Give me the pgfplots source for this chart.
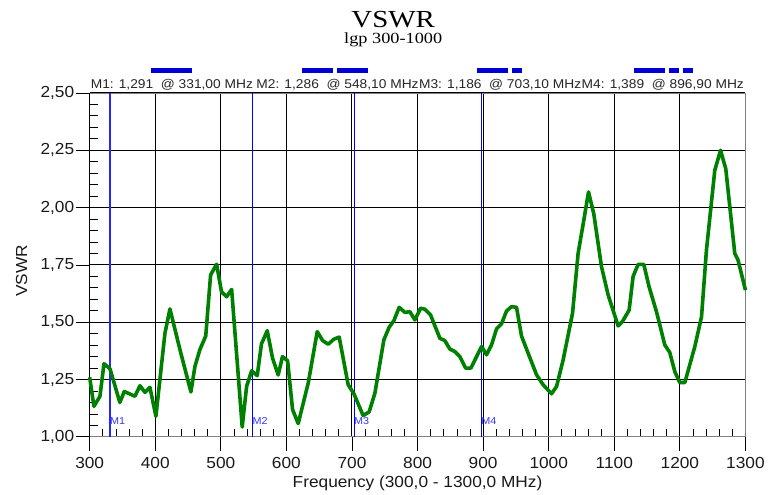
\documentclass[border=0pt]{standalone}
\usepackage{pgfplots}
\pgfplotsset{compat=1.18}
\usepackage{fontspec}
\setmainfont[FakeStretch=1.08]{Liberation Sans}
\newfontfamily\seriffont[FakeStretch=1.18]{Liberation Serif}
\definecolor{curve}{RGB}{0,128,0}
\definecolor{mk}{RGB}{0,0,255}
\definecolor{barc}{RGB}{0,0,210}
\begin{document}
\begin{tikzpicture}
\begin{axis}[
  name=ax,
  scale only axis, width=656pt, height=344pt,
  xmin=300, xmax=1300, ymin=1, ymax=2.5,
  xtick={300,400,...,1300}, ytick={1,1.25,1.5,1.75,2,2.25,2.5},
  minor x tick num=4, minor y tick num=4,
  grid=major, major grid style={black, line width=1pt},
  xtick pos=bottom, ytick pos=left,
  tick align=outside, major tick length=14pt, minor tick length=-8pt,
  major tick style={black, line width=0.8pt},
  minor tick style={black, line width=0.8pt},
  axis line style={black!50, line width=0.8pt},
  /pgf/number format/assume math mode=true,
  yticklabel style={/pgf/number format/.cd, use comma, fixed, fixed zerofill, precision=2, /tikz/.cd, xshift=2pt},
  xticklabel style={/pgf/number format/1000 sep={}, yshift=-3pt},
  tick label style={font=\fontsize{16}{18}\selectfont, text=black!90},
  xlabel={Frequency (300,0 - 1300,0 MHz)}, ylabel={VSWR},
  label style={font=\fontsize{16}{18}\selectfont, text=black!90},
  xlabel style={at={(rel axis cs:0.5,0)}, anchor=base, yshift=-51pt},
  ylabel style={at={(rel axis cs:-0.1037,0.483)}, anchor=center},
  clip=false,
]
\draw[black, line width=0.9pt] (rel axis cs:0,0) -- (rel axis cs:0,1);
% marker lines
\addplot[mk!85, line width=1.1pt] coordinates {(331,1) (331,2.5)};
\addplot[mk, line width=1pt] coordinates {(548.1,1) (548.1,2.5)};
\addplot[mk, line width=1pt] coordinates {(703.1,1) (703.1,2.5)};
\addplot[mk, line width=1pt] coordinates {(896.9,1) (896.9,2.5)};
\node[anchor=west, inner sep=0pt, text=mk!80, font=\fontsize{10}{12}\selectfont] at (axis cs:331,1.071) {M1};
\node[anchor=west, inner sep=0pt, text=mk!80, font=\fontsize{10}{12}\selectfont] at (axis cs:548.1,1.071) {M2};
\node[anchor=west, inner sep=0pt, text=mk!80, font=\fontsize{10}{12}\selectfont] at (axis cs:703.1,1.071) {M3};
\node[anchor=west, inner sep=0pt, text=mk!80, font=\fontsize{10}{12}\selectfont] at (axis cs:896.9,1.071) {M4};
% curve
\addplot[curve, line width=3.6pt, line join=round] coordinates {
(300,1.26) (306.5,1.133) (315.7,1.177) (321.8,1.319) (331,1.297) (346,1.150)
(352.8,1.198) (369,1.177) (376.7,1.223) (384.3,1.194) (391.9,1.216) (401,1.09)
(414.8,1.452) (422.4,1.558) (437.7,1.38) (454.4,1.196) (460.5,1.307) (468,1.38)
(477,1.44) (484.4,1.706) (493.6,1.753) (501,1.633) (508.8,1.611) (516.5,1.643)
(532.6,1.043) (539.3,1.22) (547,1.288) (555.5,1.267) (562,1.406) (570.8,1.463)
(578.9,1.343) (587.5,1.27) (594,1.35) (601.8,1.332) (609.4,1.119) (618,1.058)
(633.3,1.235) (647,1.459) (655.2,1.42) (663.7,1.404) (672.4,1.426) (680.5,1.435)
(694.2,1.227) (702.9,1.188) (717,1.093) (726.2,1.109) (734.9,1.19) (748.6,1.423)
(756.7,1.478) (763.9,1.507) (772,1.565) (780.6,1.543) (788.3,1.546) (795.9,1.51)
(804.6,1.561) (811,1.557) (819.8,1.532) (834,1.43) (841.6,1.42) (849.2,1.383)
(856.9,1.372) (864.5,1.35) (873.2,1.30) (881.3,1.30) (897.6,1.394) (905.2,1.358)
(912.8,1.401) (920.4,1.471) (928,1.493) (935.7,1.549) (943.3,1.568) (950.9,1.565)
(958.5,1.44) (968.6,1.365) (981.4,1.271) (991.5,1.227) (1004.3,1.188) (1012,1.22)
(1022,1.336) (1036.3,1.539) (1044.8,1.80) (1053.5,1.945) (1060.7,2.068) (1068.7,1.973)
(1080.5,1.742) (1090.6,1.619) (1105.8,1.484) (1112.5,1.503) (1122.6,1.553) (1128.7,1.70)
(1136.3,1.752) (1145,1.752) (1153,1.655) (1164.3,1.546) (1177,1.401) (1184.6,1.368)
(1192.2,1.285) (1199.8,1.237) (1207.6,1.237) (1222.8,1.394) (1233,1.524) (1240.5,1.814)
(1253.2,2.162) (1262,2.25) (1270,2.169) (1283.7,1.80) (1288.7,1.771) (1300,1.64)
};
% bars above the plot
\addplot[barc, line width=5pt] coordinates {(393.4,2.6) (455.4,2.6)};
\addplot[barc, line width=5pt] coordinates {(623.5,2.6) (671.8,2.6)};
\addplot[barc, line width=5pt] coordinates {(676.8,2.6) (725.1,2.6)};
\addplot[barc, line width=5pt] coordinates {(890.6,2.6) (938.4,2.6)};
\addplot[barc, line width=5pt] coordinates {(944.5,2.6) (959.8,2.6)};
\addplot[barc, line width=5pt] coordinates {(1129.3,2.6) (1177.6,2.6)};
\addplot[barc, line width=5pt] coordinates {(1183.1,2.6) (1198.4,2.6)};
\addplot[barc, line width=5pt] coordinates {(1204.5,2.6) (1219.7,2.6)};
% marker readouts
\node[anchor=west, inner sep=0pt, text=black!85, font=\fontsize{12.75}{14}\selectfont] at (axis cs:301.4,2.535) {M1: 1,291\ \ @ 331,00 MHz};
\node[anchor=west, inner sep=0pt, text=black!85, font=\fontsize{12.75}{14}\selectfont] at (axis cs:554,2.535) {M2: 1,286\ \ @ 548,10 MHz};
\node[anchor=west, inner sep=0pt, text=black!85, font=\fontsize{12.75}{14}\selectfont] at (axis cs:802,2.535) {M3: 1,186\ \ @ 703,10 MHz};
\node[anchor=west, inner sep=0pt, text=black!85, font=\fontsize{12.75}{14}\selectfont] at (axis cs:1050,2.535) {M4: 1,389\ \ @ 896,90 MHz};
% titles
\node[anchor=base, inner sep=0pt, font=\seriffont\fontsize{24.5}{28}\selectfont] at (axis cs:762.9,2.785) {VSWR};
\node[anchor=base, inner sep=0pt, font=\seriffont\fontsize{15.5}{18}\selectfont] at (axis cs:762.9,2.714) {lgp 300-1000};
\end{axis}
\path ([shift={(-89.7pt,-56pt)}]ax.south west) rectangle ([shift={(22pt,93pt)}]ax.north east);
\end{tikzpicture}
\end{document}
